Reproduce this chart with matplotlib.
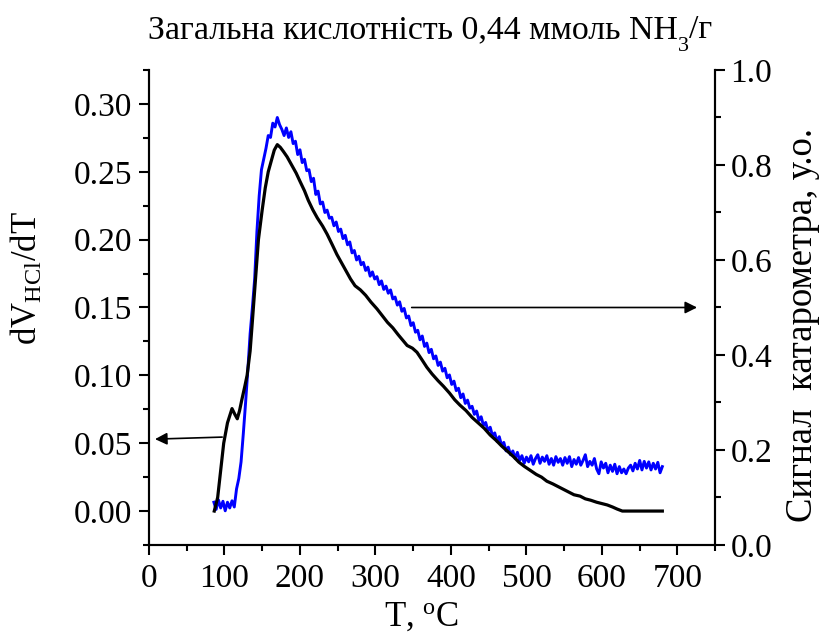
import numpy as np
import matplotlib
matplotlib.use("Agg")
import matplotlib.pyplot as plt
from matplotlib.ticker import MultipleLocator, FormatStrFormatter

plt.rcParams['font.family'] = ['Liberation Serif', 'DejaVu Serif']
plt.rcParams['mathtext.fontset'] = 'custom'
plt.rcParams['mathtext.rm'] = 'Liberation Serif'
plt.rcParams['mathtext.it'] = 'Liberation Serif:italic'

# Derivative of HCl titrant volume (left axis)
temp_hcl = [86.5, 91, 95, 99, 104, 110, 114, 117, 120, 123, 127, 130, 134, 137,
            141, 145, 150, 154, 158, 162, 166, 170, 174, 178, 183, 189, 195, 200,
            206, 211, 217, 223, 230, 236, 243, 249, 255, 261, 267, 273, 280, 287,
            294, 302, 309, 316, 323, 330, 336, 342, 349, 355, 361, 368, 375, 383,
            390, 398, 405, 412, 420, 428, 436, 444, 452, 460, 467, 475, 483, 490,
            497, 505, 513, 520, 527, 535, 542, 549, 556, 563, 571, 578, 585, 593,
            600, 607, 614, 620, 627, 650, 680]
dv_hcl = [0.000, 0.010, 0.030, 0.050, 0.065, 0.0755, 0.071, 0.068, 0.074, 0.082,
          0.092, 0.100, 0.118, 0.140, 0.170, 0.200, 0.222, 0.238, 0.250, 0.258,
          0.266, 0.270, 0.268, 0.265, 0.261, 0.255, 0.249, 0.243, 0.236, 0.229,
          0.222, 0.216, 0.210, 0.204, 0.196, 0.189, 0.183, 0.177, 0.171, 0.166,
          0.163, 0.159, 0.154, 0.149, 0.144, 0.139, 0.135, 0.130, 0.126, 0.122,
          0.120, 0.117, 0.112, 0.106, 0.101, 0.096, 0.092, 0.087, 0.082, 0.078,
          0.074, 0.069, 0.065, 0.061, 0.056, 0.052, 0.048, 0.044, 0.040, 0.036,
          0.033, 0.030, 0.027, 0.025, 0.022, 0.020, 0.018, 0.016, 0.014, 0.012,
          0.011, 0.009, 0.008, 0.0065, 0.0055, 0.0045, 0.003, 0.0015, 0.000,
          0.000, 0.000]

# Katharometer signal, sampled every 3 degrees from 86 C (right axis)
kat_signal = [
    0.090, 0.075, 0.095, 0.078, 0.092, 0.072, 0.090, 0.078, 0.093, 0.080,
    0.118, 0.140, 0.175, 0.235, 0.300, 0.370, 0.445, 0.500, 0.560, 0.660,
    0.735, 0.790, 0.812, 0.835, 0.862, 0.858, 0.888, 0.880, 0.900, 0.885,
    0.875, 0.862, 0.878, 0.858, 0.870, 0.845, 0.850, 0.822, 0.832, 0.805,
    0.812, 0.788, 0.790, 0.765, 0.772, 0.738, 0.745, 0.718, 0.722, 0.700,
    0.705, 0.688, 0.690, 0.672, 0.680, 0.660, 0.665, 0.645, 0.652, 0.632,
    0.638, 0.615, 0.620, 0.600, 0.608, 0.590, 0.595, 0.578, 0.585, 0.566,
    0.575, 0.560, 0.565, 0.548, 0.556, 0.538, 0.545, 0.530, 0.537, 0.518,
    0.522, 0.505, 0.512, 0.492, 0.498, 0.478, 0.482, 0.462, 0.468, 0.448,
    0.452, 0.432, 0.440, 0.418, 0.425, 0.405, 0.412, 0.392, 0.398, 0.378,
    0.385, 0.366, 0.372, 0.352, 0.358, 0.338, 0.345, 0.325, 0.330, 0.310,
    0.318, 0.298, 0.305, 0.288, 0.292, 0.275, 0.282, 0.262, 0.270, 0.252,
    0.258, 0.240, 0.248, 0.230, 0.236, 0.218, 0.228, 0.210, 0.216, 0.198,
    0.206, 0.190, 0.198, 0.182, 0.195, 0.178, 0.188, 0.172, 0.185, 0.175,
    0.188, 0.170, 0.182, 0.190, 0.172, 0.185, 0.176, 0.188, 0.170, 0.182,
    0.168, 0.186, 0.174, 0.182, 0.168, 0.184, 0.172, 0.186, 0.165, 0.180,
    0.170, 0.184, 0.168, 0.178, 0.190, 0.165, 0.176, 0.168, 0.182, 0.160,
    0.150, 0.175, 0.162, 0.172, 0.152, 0.168, 0.155, 0.170, 0.150, 0.165,
    0.152, 0.160, 0.150, 0.162, 0.168, 0.156, 0.172, 0.160, 0.178, 0.158,
    0.176, 0.162, 0.175, 0.158, 0.172, 0.160, 0.174, 0.152, 0.165]
temp_kat = np.arange(len(kat_signal)) * 3 + 86

# Title split around the subscript of NH3
title_parts = ["Загальна кислотність 0,44 ммоль NH", "3", "/г"]
xlabel_text = "T, $^{\\rm o}$C"
ylabel_left = "dV$_{\\rm HCl}$/dT"
ylabel_right = "Сигнал  катарометра, у.о."

fig = plt.figure(figsize=(8.23, 6.34), dpi=100)
ax = fig.add_axes([0.181, 0.1404, 0.688, 0.7492])
ax2 = ax.twinx()

ax.plot(temp_hcl, dv_hcl, color='black', lw=2.3, zorder=3)
ax2.plot(temp_kat, kat_signal, color='#0000ff', lw=2.1, zorder=2)
ax.set_zorder(ax2.get_zorder() + 1)
ax.patch.set_visible(False)

ax.set_xlim(0, 750)
ax.set_ylim(-0.025, 0.325)
ax2.set_ylim(0, 1.0)

ax.xaxis.set_major_locator(MultipleLocator(100))
ax.xaxis.set_minor_locator(MultipleLocator(50))
ax.yaxis.set_major_locator(MultipleLocator(0.05))
ax.yaxis.set_minor_locator(MultipleLocator(0.025))
ax.yaxis.set_major_formatter(FormatStrFormatter('%.2f'))
ax2.yaxis.set_major_locator(MultipleLocator(0.2))
ax2.yaxis.set_minor_locator(MultipleLocator(0.1))
ax2.yaxis.set_major_formatter(FormatStrFormatter('%.1f'))

for a in (ax, ax2):
    a.spines['top'].set_visible(False)
    for s in a.spines.values():
        s.set_linewidth(1.5)
    a.tick_params(which='major', direction='out', length=7, width=1.5,
                  labelsize=24)
    a.tick_params(which='minor', direction='out', length=4, width=1.5)
ax.tick_params(axis='y', right=False)
ax.tick_params(axis='x', pad=6)
ax.tick_params(axis='y', pad=5)
ax2.tick_params(axis='y', pad=4)

ax.set_xlabel(xlabel_text, fontsize=25)
ax.xaxis.set_label_coords(0.481, -0.118)
ax.set_ylabel(ylabel_left, fontsize=25)
ax.yaxis.set_label_coords(-0.183, 0.562)
ax2.set_ylabel(ylabel_right, fontsize=26.5)
ax2.yaxis.set_label_coords(1.125, 0.464)

# Title: main text, lowered subscript, then the unit
renderer = fig.canvas.get_renderer()
fig_w = fig.bbox.width
x_cur = 148 / fig_w
base_y = 1 - 38 / fig.bbox.height
sub_y = 1 - 51 / fig.bbox.height
for part, size, y in zip(title_parts, [24.4, 16, 24.4], [base_y, sub_y, base_y]):
    t = fig.text(x_cur, y, part, fontsize=size, ha='left', va='baseline')
    x_cur += t.get_window_extent(renderer).width / fig_w

# Arrows pointing each curve to its axis
ax.annotate('', xy=(8, 0.053), xytext=(97, 0.0545),
            arrowprops=dict(arrowstyle='-|>', color='black', lw=1.2,
                            mutation_scale=18, shrinkA=0, shrinkB=0))
ax2.annotate('', xy=(726, 0.50), xytext=(348, 0.50),
             arrowprops=dict(arrowstyle='-|>', color='black', lw=1.2,
                             mutation_scale=18, shrinkA=0, shrinkB=0))

fig.savefig('out.png', dpi=100)
